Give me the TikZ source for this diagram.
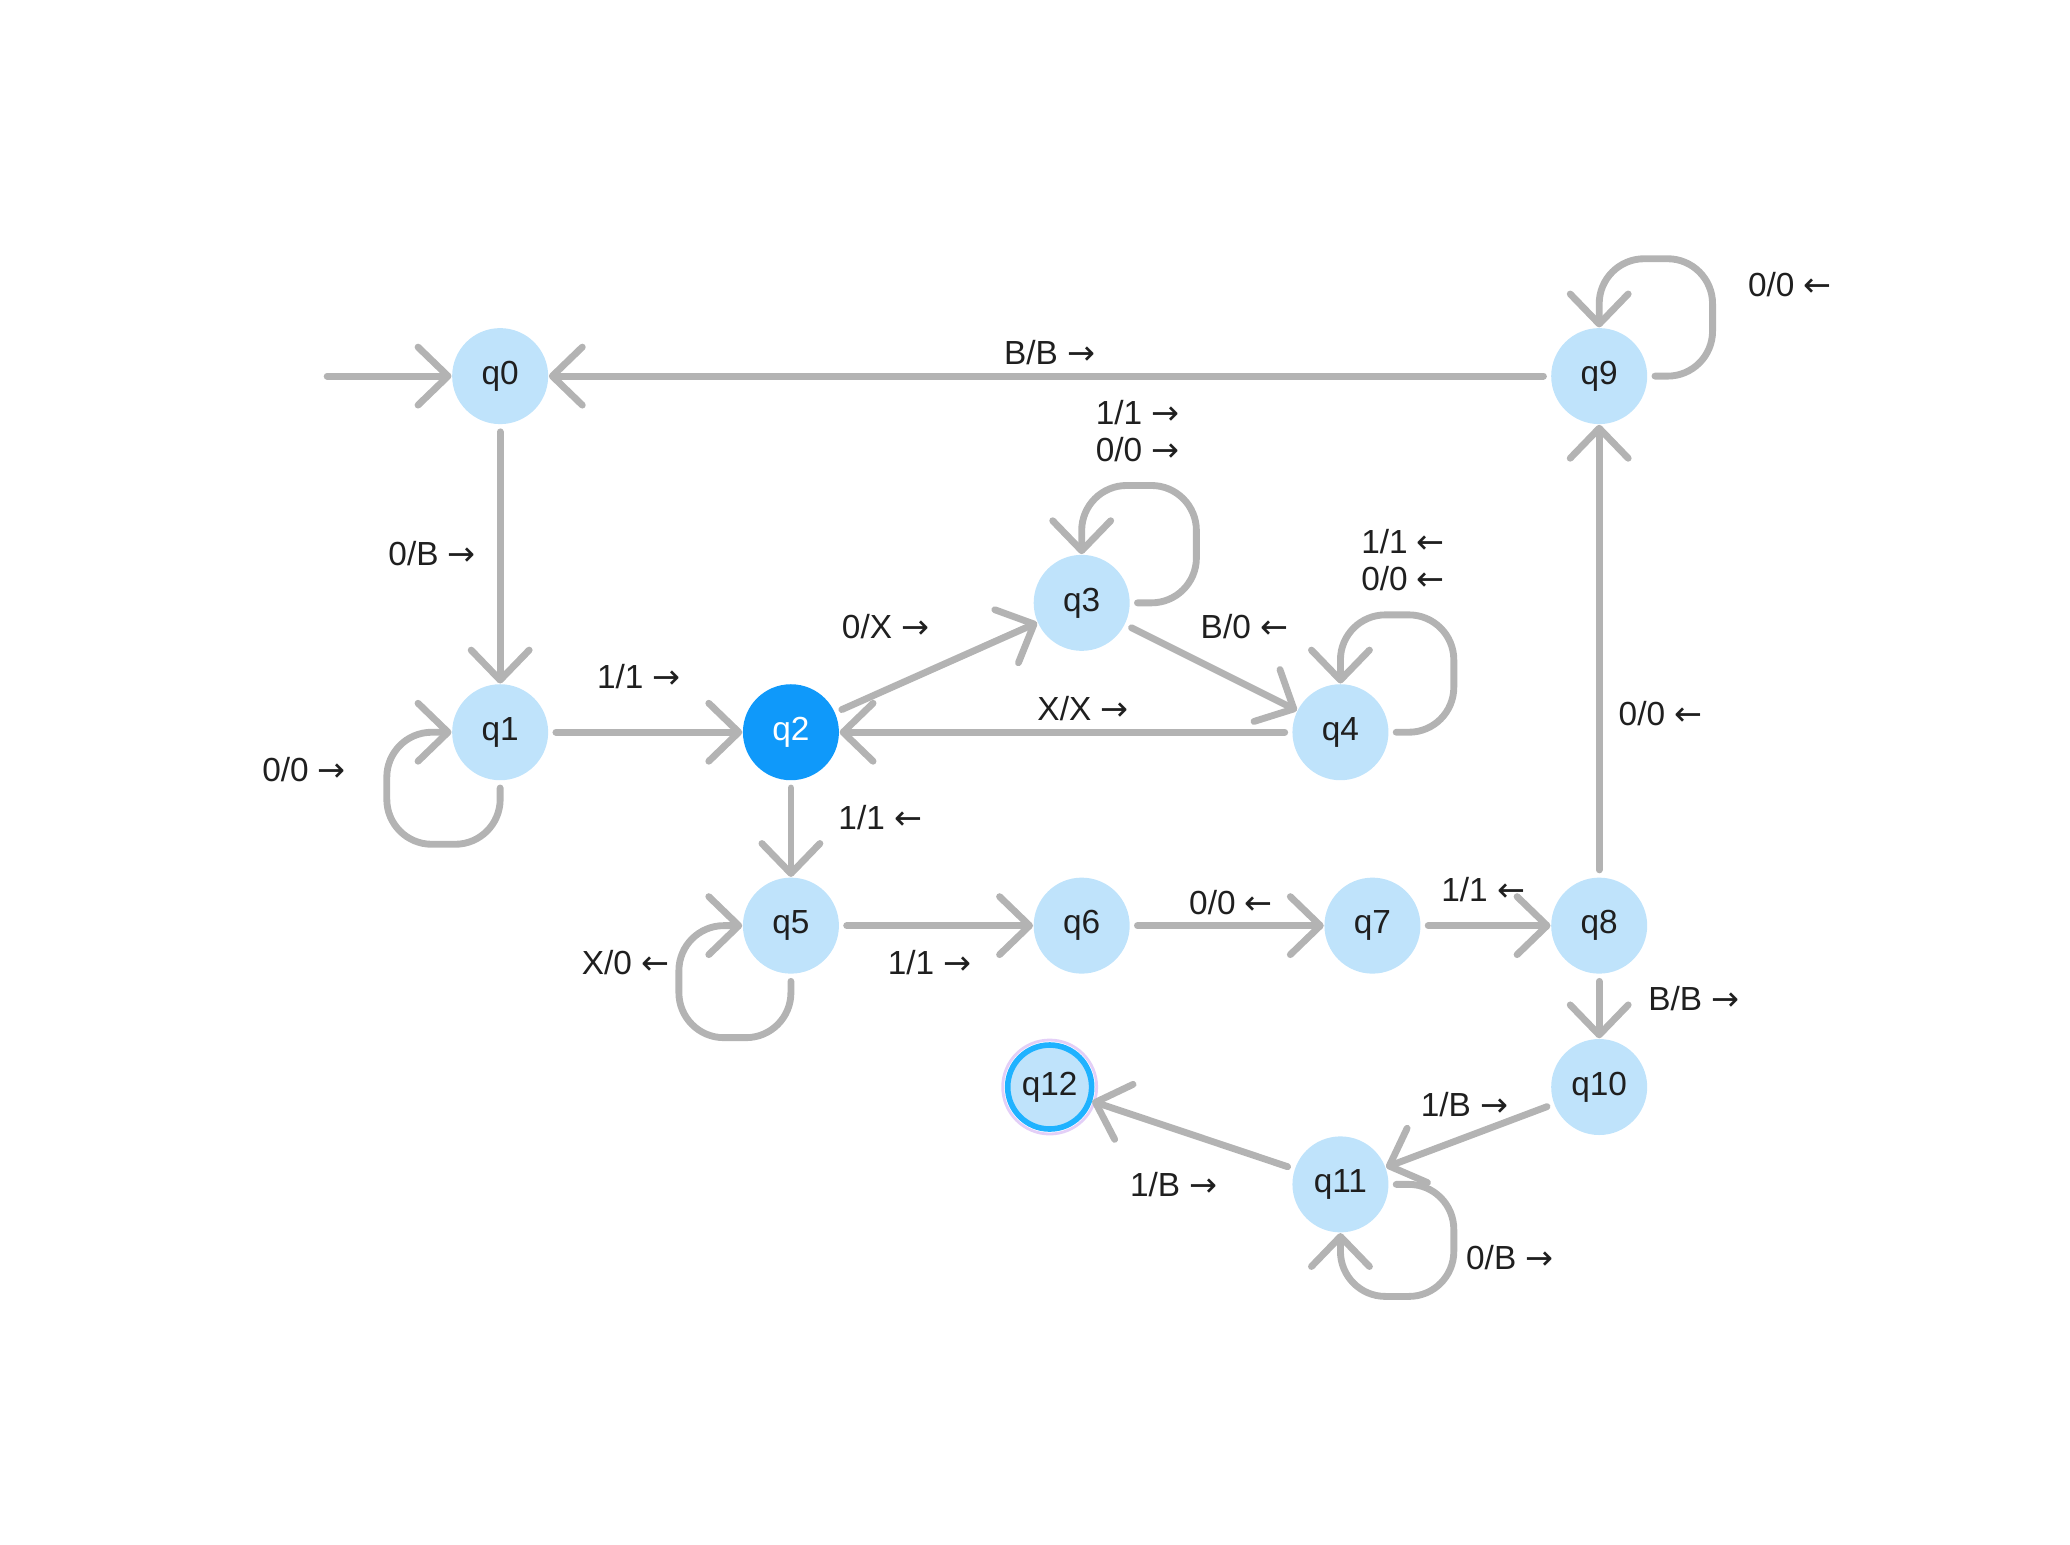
\documentclass[tikz,border=0pt]{standalone}
\usepackage{fontspec}
\setmainfont{Liberation Sans}
\newfontfamily\arrowfont{DejaVu Sans}
\newcommand{\mvR}{{\arrowfont →}}
\newcommand{\mvL}{{\arrowfont ←}}
\usetikzlibrary{arrows.meta}
\definecolor{edgegray}{HTML}{B3B3B3}
\definecolor{statefill}{HTML}{BFE3FB}
\definecolor{activefill}{HTML}{0F99FA}
\definecolor{ringblue}{HTML}{1FB2FF}
\definecolor{ringlilac}{HTML}{E3CFF7}
\definecolor{textdark}{HTML}{1F1F1F}
\tikzset{
  state/.style={circle, fill=statefill, minimum size=9.6mm, inner sep=0pt,
    font=\fontsize{9.5}{11}\selectfont, text=textdark},
  trans/.style={draw=edgegray, line width=1.95pt, line cap=round,
    -{Straight Barb[length=3mm,width=5.8mm,round]}, shorten <=2pt},
  selfloop/.style={trans, rounded corners=4.5mm},
  lbl/.style={font=\fontsize{9.5}{10.5}\selectfont, text=textdark, align=center}
}
\begin{document}
\begin{tikzpicture}[x=0.13337mm, y=-0.13337mm]
  \useasboundingbox (0,0) rectangle (1552,1158);
  % states
  \node[state] (q0) at (375,282) {q0};
  \node[state] (q1) at (375,549) {q1};
  \node[state, fill=activefill, text=white] (q2) at (593,549) {q2};
  \node[state] (q3) at (811,452) {q3};
  \node[state] (q4) at (1005,549) {q4};
  \node[state] (q5) at (593,694) {q5};
  \node[state] (q6) at (811,694) {q6};
  \node[state] (q7) at (1029,694) {q7};
  \node[state] (q8) at (1199,694) {q8};
  \node[state] (q9) at (1199,282) {q9};
  \node[state] (q10) at (1199,815) {q10};
  \node[state] (q11) at (1005,888) {q11};
  \node[state, minimum size=8.4mm, draw=ringblue, line width=1.6pt] (q12) at (787,815) {q12};
  \draw[ringlilac, line width=0.8pt] (q12) circle[radius=4.7mm];
  \coordinate (start) at (240,282);
  % transitions
  \begin{scope}[trans]
    \draw (start) to (q0);
    \draw (q9) to (q0);
    \draw (q0) to (q1);
    \draw (q1) to (q2);
    \draw (q2) to (q3);
    \draw (q3) to (q4);
    \draw (q4) to (q2);
    \draw (q2) to (q5);
    \draw (q5) to (q6);
    \draw (q6) to (q7);
    \draw (q7) to (q8);
    \draw (q8) to (q9);
    \draw (q8) to (q10);
    \draw (q10) to (q11);
    \draw (q11) to (q12);
  \end{scope}
  % loops
  \draw[selfloop] (q1.south) -- (375,633) -- (290,633) -- (290,549) -- (q1.west);
  \draw[selfloop] (q3.east) -- (897,452) -- (897,364) -- (811,364) -- (q3.north);
  \draw[selfloop] (q4.east) -- (1090,549) -- (1090,461) -- (1005,461) -- (q4.north);
  \draw[selfloop] (q5.south) -- (593,778) -- (509,778) -- (509,694) -- (q5.west);
  \draw[selfloop] (q9.east) -- (1284,282) -- (1284,194) -- (1199,194) -- (q9.north);
  \draw[selfloop] (q11.east) -- (1090,888) -- (1090,972) -- (1005,972) -- (q11.south);
  % labels
  \node[lbl] (l90) at (787,264) {B/B \mvR};
  \node[lbl] (l01) at (324,415) {0/B \mvR};
  \node[lbl] (l12) at (479,507) {1/1 \mvR};
  \node[lbl] (l23) at (664,470) {0/X \mvR};
  \node[lbl] (l34) at (933,470) {B/0 \mvL};
  \node[lbl] (l42) at (812,531) {X/X \mvR};
  \node[lbl] (l25) at (660,613) {1/1 \mvL};
  \node[lbl] (l56) at (697,722) {1/1 \mvR};
  \node[lbl] (l67) at (923,677) {0/0 \mvL};
  \node[lbl] (l78) at (1112,667) {1/1 \mvL};
  \node[lbl] (l89) at (1245,535) {0/0 \mvL};
  \node[lbl] (l810) at (1270,749) {B/B \mvR};
  \node[lbl] (l1011) at (1098,828) {1/B \mvR};
  \node[lbl] (l1112) at (880,888) {1/B \mvR};
  \node[lbl] (l11) at (228,577) {0/0 \mvR};
  \node[lbl] (l33) at (853,323) {1/1 \mvR\\0/0 \mvR};
  \node[lbl] (l44) at (1052,420) {1/1 \mvL\\0/0 \mvL};
  \node[lbl] (l55) at (469,722) {X/0 \mvL};
  \node[lbl] (l99) at (1342,213) {0/0 \mvL};
  \node[lbl] (l1111) at (1132,943) {0/B \mvR};
\end{tikzpicture}
\end{document}
